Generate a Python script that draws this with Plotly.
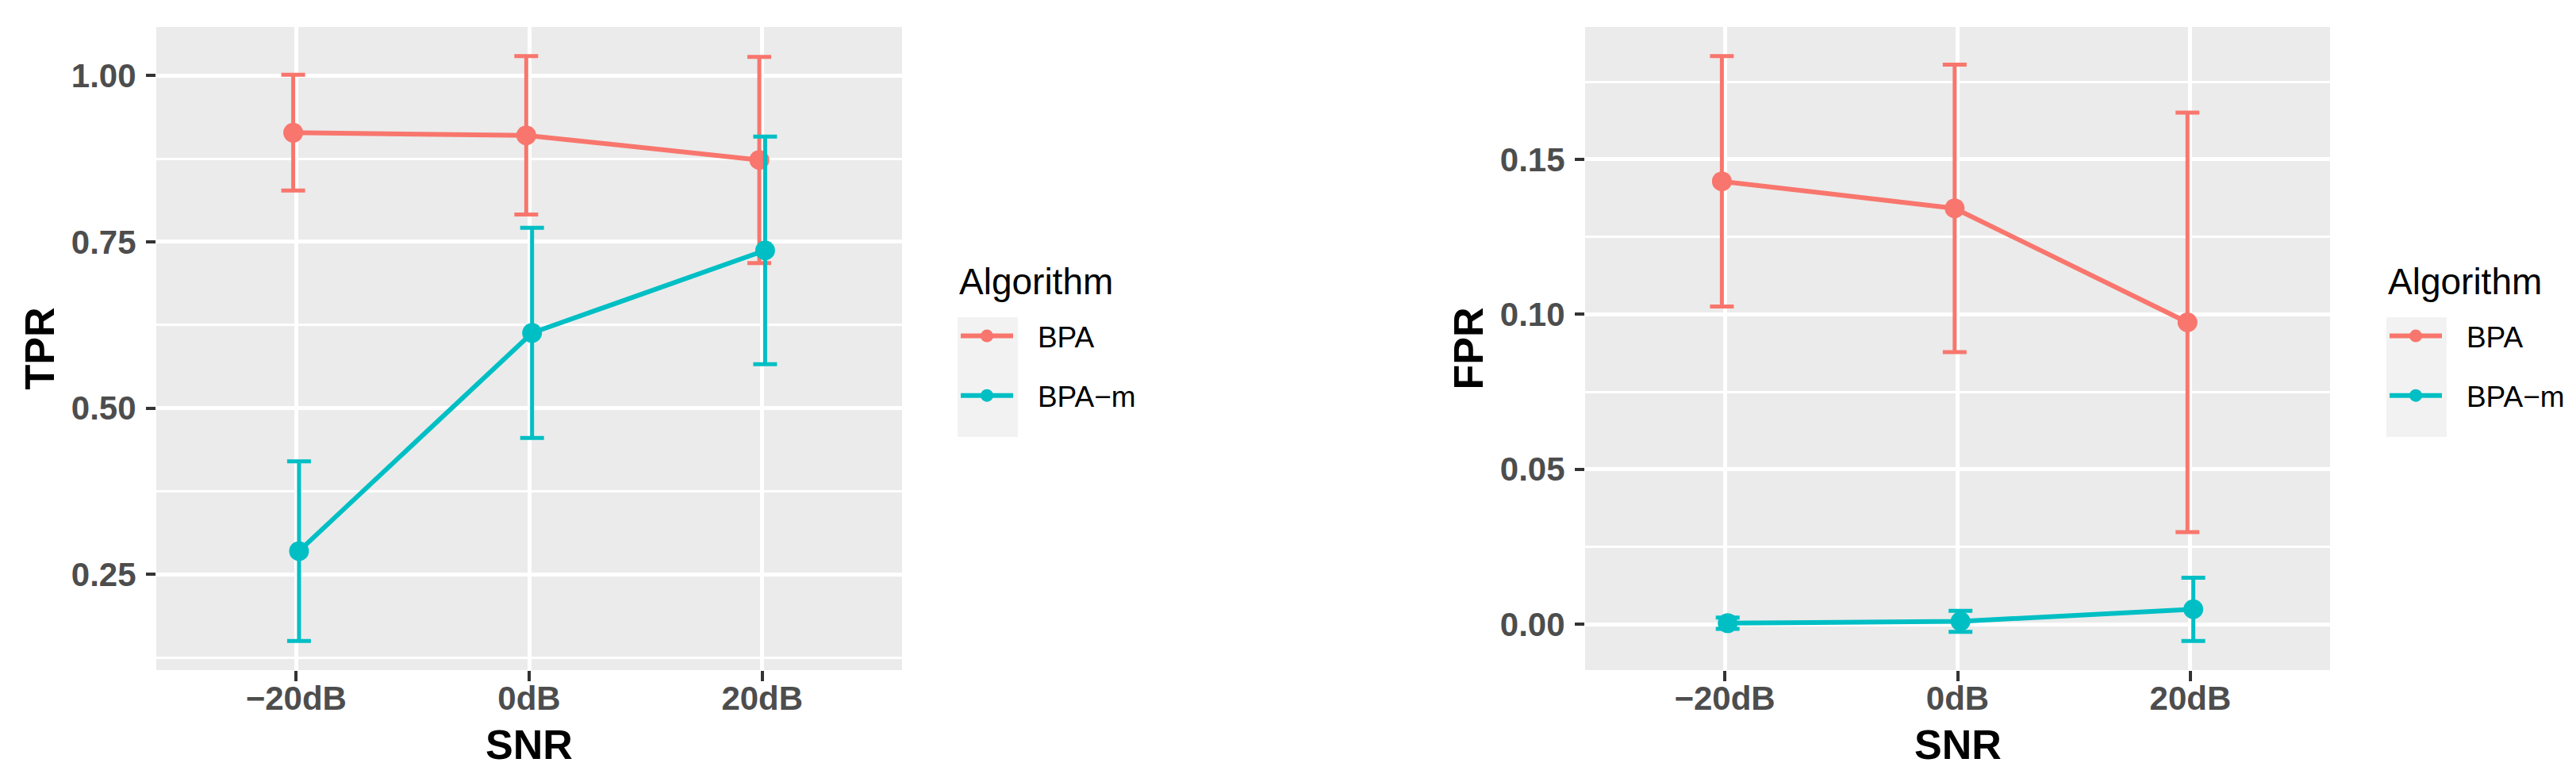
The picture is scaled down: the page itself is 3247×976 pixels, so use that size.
import plotly.graph_objects as go

snr_labels = ["\u221220dB", "0dB", "20dB"]
algorithms = ["BPA", "BPA\u2212m"]
colors = ["#F8766D", "#00BFC4"]

tpr_mean = {"BPA": [0.914, 0.910, 0.873], "BPA\u2212m": [0.285, 0.613, 0.737]}
tpr_sd = {"BPA": [0.087, 0.119, 0.155], "BPA\u2212m": [0.135, 0.158, 0.171]}

fpr_mean = {"BPA": [0.1429, 0.1342, 0.0974], "BPA\u2212m": [0.0003, 0.0009, 0.0048]}
fpr_sd = {"BPA": [0.0404, 0.0464, 0.0677], "BPA\u2212m": [0.0018, 0.0034, 0.0102]}

W, H = 3247, 976
FONT = "Liberation Sans, Arial, Helvetica, sans-serif"
dodge = 0.025  # half of the dodge width


def expand(means, sds):
    lo = min(m - s for k in means for m, s in zip(means[k], sds[k]))
    hi = max(m + s for k in means for m, s in zip(means[k], sds[k]))
    pad = (hi - lo) * 0.05
    return [lo - pad, hi + pad]


fig = go.Figure()

panels = [
    (tpr_mean, tpr_sd, "x", "y", "legend"),
    (fpr_mean, fpr_sd, "x2", "y2", "legend2"),
]
for mean, sd, xa, ya, lg in panels:
    for i, alg in enumerate(algorithms):
        off = (i - 0.5) * dodge
        xs = [j + 1 + off for j in range(len(snr_labels))]
        fig.add_trace(go.Scatter(
            x=xs, y=mean[alg], name="\u2002\u2009" + alg, mode="lines+markers",
            line=dict(color=colors[i], width=6),
            marker=dict(color=colors[i], size=25),
            error_y=dict(type="data", array=sd[alg], color=colors[i],
                         thickness=5, width=15),
            xaxis=xa, yaxis=ya, legend=lg, legendgroup=alg + lg,
        ))

tick_font = dict(family=FONT, size=42, color="#4D4D4D", weight="bold")
title_font = dict(family=FONT, size=52, color="black", weight="bold")

xcommon = dict(
    range=[0.4, 3.6], tickvals=[1, 2, 3], ticktext=snr_labels,
    showgrid=True, gridcolor="white", gridwidth=5, zeroline=False,
    ticks="outside", ticklen=13, tickwidth=4, tickcolor="#333333",
    tickfont=tick_font, showline=False, ticklabelstandoff=-14,
)
ycommon = dict(
    showgrid=True, gridcolor="white", gridwidth=5, zeroline=False,
    ticks="outside", ticklen=12, tickwidth=4, tickcolor="#333333",
    tickfont=tick_font, showline=False, ticklabelstandoff=4,
)

top, bottom = 1 - 26 / H, 1 - 837 / H
left_dom = [189 / W, 1129 / W]
right_dom = [1990 / W, 2929 / W]

fig.update_layout(
    width=W, height=H,
    margin=dict(l=0, r=0, t=0, b=0),
    paper_bgcolor="white", plot_bgcolor="#EBEBEB",
    showlegend=True,
    xaxis=dict(domain=left_dom, anchor="y", **xcommon),
    xaxis2=dict(domain=right_dom, anchor="y2", **xcommon),
    yaxis=dict(domain=[bottom, top], anchor="x", range=expand(tpr_mean, tpr_sd),
               tickvals=[0.25, 0.50, 0.75, 1.00],
               ticktext=["0.25", "0.50", "0.75", "1.00"],
               minor=dict(dtick=0.125, tick0=0, showgrid=True, gridcolor="white",
                          gridwidth=2.5, ticks=""),
               **ycommon),
    yaxis2=dict(domain=[bottom, top], anchor="x2", range=expand(fpr_mean, fpr_sd),
                tickvals=[0.00, 0.05, 0.10, 0.15],
                ticktext=["0.00", "0.05", "0.10", "0.15"],
                minor=dict(dtick=0.025, tick0=0, showgrid=True, gridcolor="white",
                           gridwidth=2.5, ticks=""),
                **ycommon),
)

# axis titles (placed as annotations to keep them inside the page)
for dom, ytitle in ((left_dom, "TPR"), (right_dom, "FPR")):
    fig.add_annotation(text="SNR", xref="paper", yref="paper",
                       x=(dom[0] + dom[1]) / 2, y=1 - 931 / H,
                       xanchor="center", yanchor="middle", showarrow=False,
                       font=title_font)
    fig.add_annotation(text=ytitle, xref="paper", yref="paper",
                       x=dom[0] - 148 / W, y=(top + bottom) / 2, textangle=-90,
                       xanchor="center", yanchor="middle", showarrow=False,
                       font=title_font)

legend_style = dict(
    xanchor="left", yanchor="top", y=1 - 385 / H,
    bgcolor="rgba(0,0,0,0)", borderwidth=0,
    font=dict(family=FONT, size=37, color="black"),
    tracegroupgap=24, itemwidth=66,
)
fig.update_layout(
    legend=dict(x=1198 / W, **legend_style),
    legend2=dict(x=2999 / W, **legend_style),
)

# legend title and grey key background, as in ggplot
for x0 in (1199, 3000):
    fig.add_annotation(text="Algorithm", xref="paper", yref="paper",
                       x=x0 / W, y=1 - 347 / H, xanchor="left", yanchor="middle",
                       showarrow=False,
                       font=dict(family=FONT, size=46, color="black"))
    fig.add_shape(type="rect", xref="paper", yref="paper",
                  x0=x0 / W, x1=(x0 + 76) / W, y0=1 - 543 / H, y1=1 - 392 / H,
                  fillcolor="#F2F2F2", line=dict(width=0), layer="above")

fig.write_html("out.html")
